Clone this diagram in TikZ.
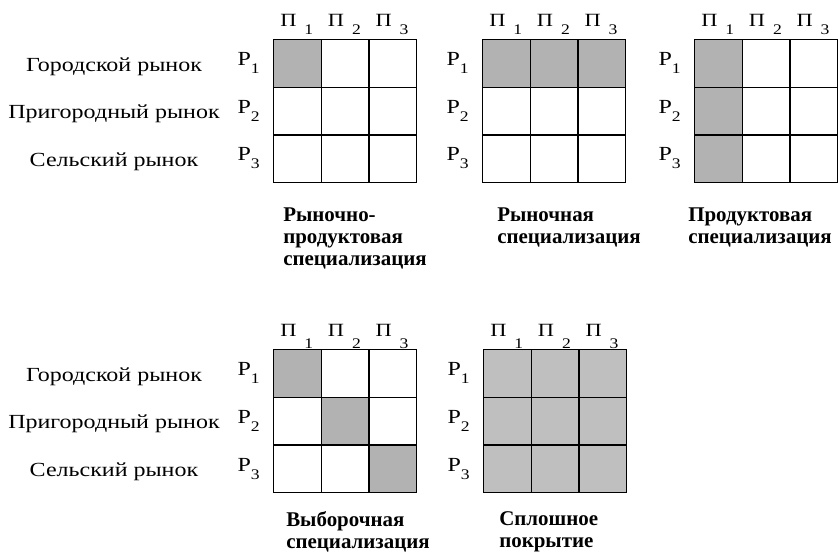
\documentclass[tikz,border=0pt]{standalone}
\usepackage{fontspec}
\setmainfont{Liberation Serif}
\newfontfamily\widefont[FakeStretch=1.2]{Liberation Serif}
\newcommand{\subn}[1]{{\fontsize{11}{11}\selectfont #1}}
\begin{document}
\begin{tikzpicture}[x=0.75pt, y=-0.75pt,
    cell/.style={draw, line width=1pt, minimum size=35.7pt, inner sep=0pt, anchor=north west},
    idx/.style={font=\widefont\fontsize{15}{17}\selectfont, anchor=base east, inner sep=0pt},
    head/.style={font=\widefont\fontsize{14}{16}\selectfont, anchor=base, inner sep=0pt},
    row/.style={font=\widefont\fontsize{15}{17}\selectfont, anchor=base, inner sep=0pt},
    capt/.style={font=\bfseries\fontsize{15.7}{16.5}\selectfont, align=left, anchor=north west, inner sep=0pt}]
  \useasboundingbox (0,0) rectangle (838,555);
  % five matrices: name / left / top / index drop / shade / shaded cells
  \foreach \g/\gx/\gy/\dl/\fc/\sel in {a/273/39/5.8pt/30/{and(\i==1,\j==1)},
                                     b/482/39/5.8pt/30/{\i==1},
                                     c/694/39/5.8pt/30/{\j==1},
                                     d/273/349/8.5pt/30/{\i==\j},
                                     e/483/349/8.5pt/25/{1}} {
    \foreach \i in {1,2,3} {
      \foreach \j in {1,2,3} {
        \pgfmathtruncatemacro\on{\sel}
        \ifnum\on=1 \def\cellcol{black!\fc}\else \def\cellcol{white}\fi
        \node[cell, fill=\cellcol] (\g\i\j) at ({\gx+47.6*(\j-1)}, {\gy+47.6*(\i-1)}) {};
      }
      \node[idx] (\g r\i) at ({\gx-13}, {\gy+47.6*(\i-0.5)+3})
        {Р\raisebox{-6pt}{\subn{\i}}};
      \node[head] (\g h\i) at ({\gx+47.6*(\i-0.5)}, {\gy-12})
        {П\hspace{6pt}\raisebox{-\dl}{\subn{\i}}};
    }
  }
  % market names
  \foreach \gy/\k in {39/a, 349/d} {
    \foreach \i/\t in {1/Городской рынок, 2/Пригородный рынок, 3/Сельский рынок}
      \node[row] (\k l\i) at (114, {\gy+47.6*(\i-0.5)+8.5}) {\t};
  }
  \node[capt] (ca) at (283,208) {Рыночно-\\продуктовая\\специализация};
  \node[capt] (cb) at (497,208) {Рыночная\\специализация};
  \node[capt] (cc) at (688,208) {Продуктовая\\специализация};
  \node[capt] (cd) at (286,511) {Выборочная\\специализация};
  \node[capt] (ce) at (499,511) {Сплошное\\покрытие};
\end{tikzpicture}
\end{document}
